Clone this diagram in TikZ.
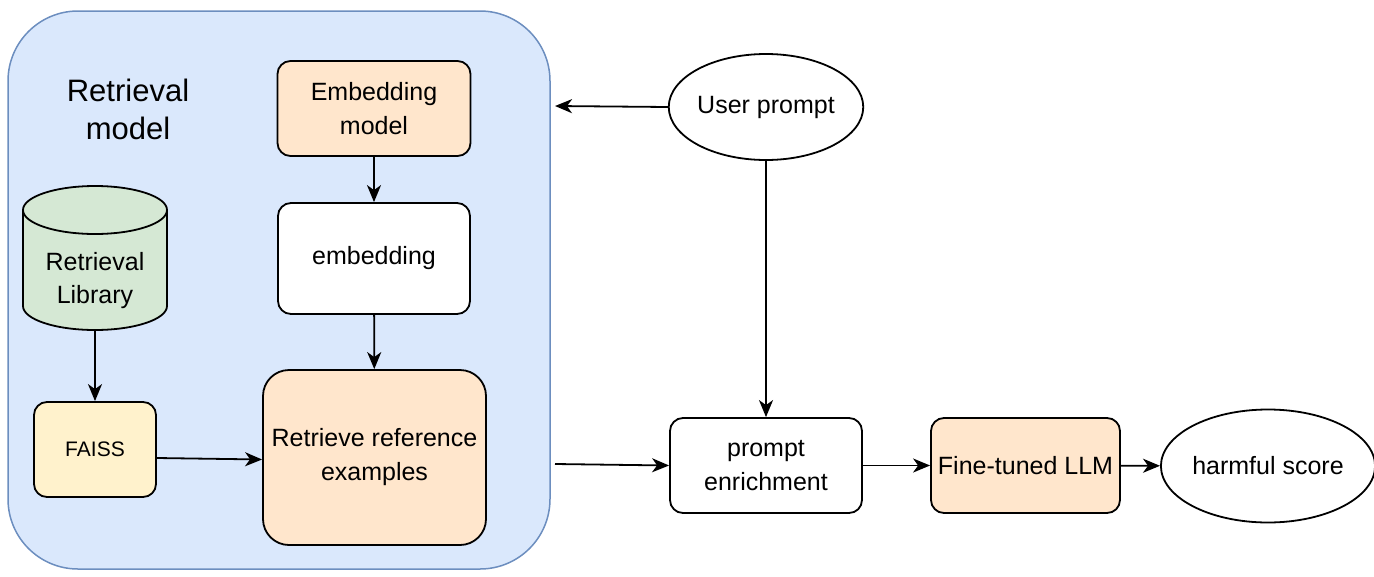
\documentclass[tikz,border=0pt]{standalone}
\usepackage{fontspec}
\setmainfont{Liberation Sans}
\usetikzlibrary{arrows.meta,shapes.geometric,calc}
\definecolor{cblue}{HTML}{DAE8FC}
\definecolor{cbluedraw}{HTML}{6C8EBF}
\definecolor{corange}{HTML}{FFE6CC}
\definecolor{cyellow}{HTML}{FFF2CC}
\definecolor{cgreen}{HTML}{D5E8D4}
\tikzset{
  box/.style={draw=black, line width=1.8pt, rounded corners=13pt, align=center, inner sep=0pt,
    font=\fontsize{25}{34}\selectfont},
  ell/.style={draw=black, line width=1.8pt, ellipse, inner sep=0pt, align=center,
    font=\fontsize{25}{34}\selectfont},
  arr/.style={-{Stealth[length=17pt,width=14pt,inset=5pt]}, line width=1.8pt, black},
}
\begin{document}
\begin{tikzpicture}[x=1pt,y=-1pt]
\useasboundingbox (0,0) rectangle (1374,576);
% container
\node[draw=cbluedraw, fill=cblue, line width=1.5pt, rounded corners=70pt,
      minimum width=542pt, minimum height=558pt, inner sep=0pt] (cont) at (279,290) {};
\node[align=center, font=\fontsize{31}{38}\selectfont] (title) at (128,109) {Retrieval\\model};
% boxes
\node[box, fill=corange, minimum width=193pt, minimum height=95pt] (emod) at (374,108.5) {Embedding\\model};
\node[box, fill=white, minimum width=192pt, minimum height=111pt] (emb) at (374,258.5) {embedding};
\node[box, fill=cyellow, minimum width=122pt, minimum height=95pt, font=\fontsize{21}{26}\selectfont] (faiss) at (95,449.5) {FAISS};
\node[box, fill=corange, rounded corners=26pt, minimum width=223pt, minimum height=175pt] (ret) at (374.5,457.5) {Retrieve reference\\examples};
% cylinder
\draw[fill=cgreen, line width=1.8pt] (23,210) -- (23,306) arc[start angle=180, end angle=0, x radius=72, y radius=24] -- (167,210) arc[start angle=0, end angle=-180, x radius=72, y radius=24] -- cycle;
\draw[line width=1.8pt] (23,210) arc[start angle=180, end angle=0, x radius=72, y radius=24];
\node[align=center, font=\fontsize{25}{33}\selectfont] (lib) at (95,281) {Retrieval\\Library};
\coordinate (libbot) at (95,330);
% right side
\node[ell, minimum width=192pt, minimum height=106pt] (user) at (766,107) {User prompt};
\node[box, fill=white, minimum width=192pt, minimum height=95pt] (enr) at (766,465.5) {prompt\\enrichment};
\node[box, fill=corange, minimum width=189pt, minimum height=95pt] (llm) at (1025.5,465.5) {Fine-tuned LLM};
\node[ell, minimum width=196pt, minimum height=113pt] (harm) at (1268,466) {harmful score};
\coordinate (cin) at (555,106);
\coordinate (cout) at (555,464);
% connectors
\draw[arr] (emod) -- (emb);
\draw[arr] (emb) -- (ret);
\draw[arr] (libbot) -- (faiss);
\draw[arr] ($(faiss.east)+(0,8.5)$) -- ($(ret.west)+(0,2)$);
\draw[arr] (user.west) -- (cin);
\draw[arr] (user.south) -- (enr.north);
\draw[arr] (cout) -- (enr.west);
\draw[arr] (enr) -- (llm);
\draw[arr] (llm) -- (harm);
\end{tikzpicture}
\end{document}
